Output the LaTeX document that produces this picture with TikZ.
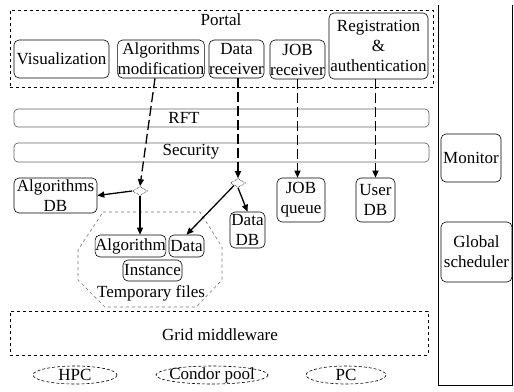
\documentclass[tikz,border=0pt]{standalone}
\usepackage{fontspec}
\setmainfont{Liberation Serif}
\usetikzlibrary{positioning,arrows.meta,shapes.geometric}
\tikzset{
  >={Triangle[length=7pt,width=6pt]},
  every node/.style={font=\fontsize{17}{20}\selectfont},
  modbox/.style={draw,rounded corners=5pt,line width=0.6pt,inner sep=0pt,
    align=center},
  barbox/.style={draw=black!60,rounded corners=4pt,line width=0.7pt,
    inner sep=0pt},
  layerbox/.style={draw,dashed,line width=0.7pt,inner sep=0pt},
  junc/.style={diamond,draw,densely dotted,line width=0.6pt,
    minimum width=15pt,minimum height=9pt,inner sep=0pt},
  reqflow/.style={->,line width=1.3pt,dash pattern=on 10pt off 4pt},
  dataflow/.style={->,line width=1.3pt},
  tmpline/.style={draw=black!55,dashed,line width=0.6pt},
  hostline/.style={densely dashed,line width=0.6pt},
}

\begin{document}
\begin{tikzpicture}[x=1pt,y=-1pt]
  \useasboundingbox (0,0) rectangle (514,391);
  % portal
  \node[layerbox,minimum width=423,minimum height=77] (portal) at (221.5,48.5) {};
  \node (portallbl) at (221,20) {Portal};
  \node[modbox,minimum width=95,minimum height=38] (vis) at (61.5,59) {Visualization};
  \node[modbox,minimum width=86,minimum height=38] (algmod) at (161,59)
    {Algorithms\\modification};
  \node[modbox,minimum width=55,minimum height=38] (datarecv) at (236.5,59)
    {Data\\receiver};
  \node[modbox,minimum width=55,minimum height=39] (jobrecv) at (297.5,59.5)
    {JOB\\receiver};
  \node[modbox,minimum width=99,minimum height=66] (reg) at (378.5,46)
    {Registration\\\&\\authentication};
  % services
  \node[barbox,minimum width=415,minimum height=18] (rft) at (221.5,118) {};
  \node (rftlbl) at (184,118) {RFT};
  \node[barbox,minimum width=415,minimum height=19] (sec) at (221.5,152.5) {};
  \node (seclbl) at (191,152) {Security};
  % storage
  \node[modbox,minimum width=83,minimum height=35] (algdb) at (55.5,195.5)
    {Algorithms\\DB};
  \node[junc] (j1) at (140,191) {};
  \node[junc] (j2) at (238,183) {};
  \node[modbox,minimum width=48,minimum height=44] (jobq) at (301,200) {JOB\\queue};
  \node[modbox,minimum width=39,minimum height=44] (userdb) at (375.5,200) {User\\DB};
  \node[modbox,minimum width=35,minimum height=36] (datadb) at (247.5,230) {Data\\DB};
  \draw[tmpline] (103,212) -- (200,212) -- (222,247) -- (222,280) -- (196,307)
    -- (105,307) -- (78,280) -- (78,250) -- cycle;
  \node[modbox,minimum width=69,minimum height=22] (alg) at (130.5,246) {Algorithm};
  \node[modbox,minimum width=35,minimum height=22] (data) at (186.5,246) {Data};
  \node[modbox,minimum width=59,minimum height=21] (inst) at (152.5,270.5) {Instance};
  \node (tmplbl) at (151,293) {Temporary files};
  % middleware and resources
  \node[layerbox,minimum width=418,minimum height=44] (grid) at (219,333) {};
  \node (gridlbl) at (220,335) {Grid middleware};
  \node (hpc) at (75,375) {HPC};
  \node (condor) at (212,375) {Condor pool};
  \node (pc) at (346,375) {PC};
  \draw[hostline] (hpc) ellipse (42 and 9);
  \draw[hostline] (condor) ellipse (56 and 9);
  \draw[hostline] (pc) ellipse (40 and 9);
  % management column
  \draw[line width=0.9pt] (438,5) -- (438,385) -- (512,385) -- (512,5);
  \node[modbox,minimum width=60,minimum height=48] (mon) at (471,158) {Monitor};
  \node[modbox,minimum width=71,minimum height=60] (gsched) at (476.5,252)
    {Global\\scheduler};
  % flows
  \draw[reqflow] ([xshift=-6pt]algmod.south) -- (j1.north);
  \draw[reqflow] (datarecv.south -| j2) -- (j2.north);
  \draw[reqflow] (jobrecv.south) -- (jobrecv.south |- jobq.north);
  \draw[reqflow] (userdb.north |- reg.south) -- (userdb.north);
  \draw[dataflow] (j1.west) -- (algdb.east);
  \draw[dataflow] (j1.south) -- (j1.south |- alg.north);
  \draw[dataflow] (j2.south west) -- (data.north);
  \draw[dataflow] (j2.south) -- (datadb.north);
\end{tikzpicture}
\end{document}
